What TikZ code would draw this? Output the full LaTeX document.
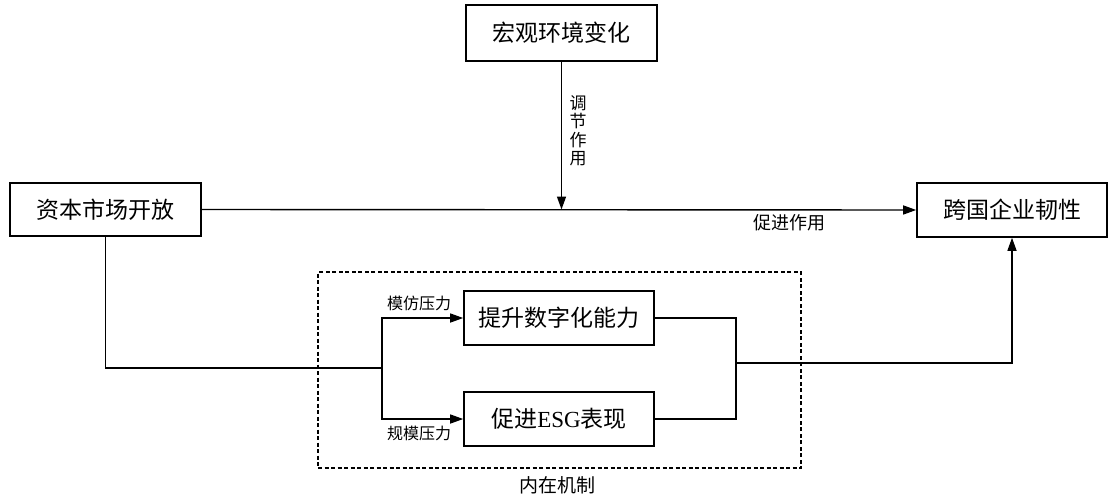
\documentclass[tikz,border=0pt]{standalone}
\usepackage{fontspec}
\setmainfont{Liberation Serif}
\newfontfamily\cjk{Noto Sans CJK SC}
\usetikzlibrary{arrows.meta}
\begin{document}
\begin{tikzpicture}[x=1pt,y=-1pt,
  box/.style={draw,line width=1.6pt,minimum width=190pt,minimum height=54pt,inner sep=0pt,font=\cjk\fontsize{23}{26}\selectfont},
  lbl/.style={inner sep=0pt,font=\cjk\fontsize{16}{18}\selectfont},
  conn/.style={line width=1.4pt},
  arr/.style={conn,-{Triangle[length=13pt,width=9pt]}}]
\useasboundingbox (0,0) rectangle (1113,495);
\node[box,minimum width=191pt,minimum height=56pt] (top) at (561.5,33) {宏观环境变化};
\node[box,minimum width=191pt,minimum height=53pt] (left) at (105.5,209.5) {资本市场开放};
\node[box] (right) at (1012,210) {跨国企业韧性};
\node[box] (up) at (559,318) {提升数字化能力};
\node[box] (dn) at (559,419) {促进{\rmfamily ESG}表现};
\node[draw,dash pattern=on 4pt off 2.5pt,line width=1.2pt,minimum width=483pt,minimum height=196pt,inner sep=0pt] (mech) at (559.5,370) {};
\node[lbl,font=\cjk\fontsize{19}{21}\selectfont] (mechlbl) at (557,485) {内在机制};
\node[lbl,font=\cjk\fontsize{17}{18.5}\selectfont,align=center] (adj) at (578,131) {调\\节\\作\\用};
\node[lbl,font=\cjk\fontsize{18}{20}\selectfont] (prom) at (789,223) {促进作用};
\node[lbl] (imit) at (419,303) {模仿压力};
\node[lbl] (scale) at (419,433) {规模压力};
\coordinate (split) at (382,368);
\coordinate (merge) at (736,363);
\draw[arr] (left.east) -- (right.west);
\draw[arr] (top.south) -- (top.south |- left.east);
\draw[conn] (left.south) |- (split);
\draw[arr] (split) |- (up.west);
\draw[arr] (split) |- (dn.west);
\draw[conn] (up.east) -| (merge);
\draw[conn] (dn.east) -| (merge);
\draw[arr] (merge) -| (right.south);
\end{tikzpicture}
\end{document}
